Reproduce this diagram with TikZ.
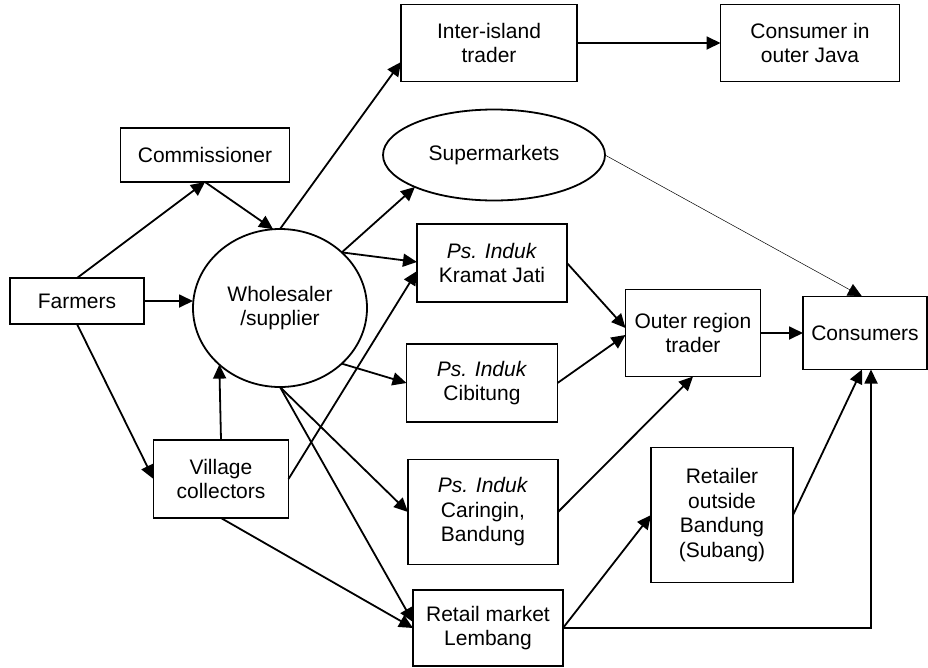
\documentclass[tikz,border=0pt]{standalone}
\usepackage{fontspec}
\setmainfont{Liberation Sans}
\usepackage{tikz}
\usetikzlibrary{positioning,arrows.meta,shapes.geometric}
\tikzset{
  box/.style={rectangle, draw, line width=1.8pt, inner sep=0pt, outer sep=0pt, align=center,
              font=\fontsize{21}{24.5}\selectfont},
  oval/.style={ellipse, draw, line width=1.8pt, inner sep=0pt, outer sep=0pt, align=center,
               font=\fontsize{21}{24.5}\selectfont},
  fwd/.style={-{Triangle[length=14pt,width=13pt]}, line width=1.8pt},
  thinfwd/.style={-{Triangle[length=14pt,width=13pt]}, line width=0.5pt}, % faint link to consumers
}

\begin{document}
\begin{tikzpicture}[x=1pt, y=-1pt]
  \useasboundingbox (0,0) rectangle (928,667);

  \node[box, minimum width=134pt, minimum height=46pt] (farmers) at (77,301) {Farmers};
  \node[box, minimum width=169pt, minimum height=54pt] (comm) at (205,155) {Commissioner};
  \node[oval, minimum width=174pt, minimum height=158pt] (whole) at (280,308) {Wholesaler\\/supplier};
  \node[box, minimum width=135pt, minimum height=78pt] (village) at (221,479) {Village\\collectors};
  \node[box, minimum width=176pt, minimum height=77pt] (inter) at (489,43) {Inter-island\\trader};
  \node[box, minimum width=179pt, minimum height=77pt] (outerjava) at (810,43) {Consumer in\\outer Java};
  \node[oval, minimum width=222pt, minimum height=91pt] (super) at (494,155) {Supermarkets};
  \node[box, minimum width=150pt, minimum height=78pt] (kramat) at (492,263) {\textit{Ps. Induk}\\Kramat Jati};
  \node[box, minimum width=151pt, minimum height=78pt] (cibitung) at (482,383) {\textit{Ps. Induk}\\Cibitung};
  \node[box, minimum width=150pt, minimum height=105pt] (caringin) at (483,512) {\textit{Ps. Induk}\\Caringin,\\Bandung};
  \node[box, minimum width=150pt, minimum height=76pt] (lembang) at (488,628) {Retail market\\Lembang};
  \node[box, minimum width=135pt, minimum height=87pt] (outer) at (693,333) {Outer region\\trader};
  \node[box, minimum width=124pt, minimum height=73pt] (consumers) at (865,333) {Consumers};
  \node[box, minimum width=142pt, minimum height=135pt] (retailer) at (722,515) {Retailer\\outside\\Bandung\\(Subang)};

  \draw[fwd] (farmers.north) -- (comm.south);
  \draw[fwd] (comm.south) -- (whole.95);
  \draw[fwd] (farmers.east) -- (farmers.east -| whole.west);
  \draw[fwd] (farmers.south) -- (village.west);
  \draw[fwd] (village.north) -- (whole.223);
  \draw[fwd] (village.east) -- ([yshift=-8pt]kramat.west);
  \draw[fwd] (village.south) -- (lembang.west);
  \draw[fwd] (whole.north) -- ([yshift=-19pt]inter.west);
  \draw[fwd] (whole.42) -- (super.202);
  \draw[fwd] (whole.42) -- ([yshift=1pt]kramat.west);
  \draw[fwd] (whole.318) -- (cibitung.west);
  \draw[fwd] (whole.south) -- (caringin.west);
  \draw[fwd] (whole.south) -- ([yshift=6pt]lembang.west);
  \draw[fwd] (inter.east) -- (outerjava.west);
  \draw[thinfwd] (super.east) -- ([xshift=-3pt]consumers.north);
  \draw[fwd] (kramat.east) -- ([yshift=5pt]outer.west);
  \draw[fwd] (cibitung.east) -- ([yshift=-2pt]outer.west);
  \draw[fwd] (caringin.east) -- (outer.south);
  \draw[fwd] (outer.east) -- (consumers.west);
  \draw[fwd] (lembang.east) -- (retailer.west);
  \draw[fwd] (retailer.east) -- ([xshift=-3pt]consumers.south);
  \draw[fwd] (lembang.east) -| ([xshift=6pt]consumers.south);
\end{tikzpicture}
\end{document}
